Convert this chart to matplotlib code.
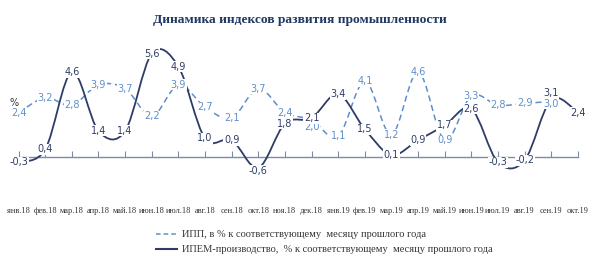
import matplotlib.pyplot as plt
import numpy as np
from matplotlib.path import Path
from matplotlib.patches import PathPatch
from matplotlib.lines import Line2D
from matplotlib.transforms import blended_transform_factory

months = ["янв.18", "фев.18", "мар.18", "апр.18", "май.18", "июн.18", "июл.18",
          "авг.18", "сен.18", "окт.18", "ноя.18", "дек.18", "янв.19", "фев.19",
          "мар.19", "апр.19", "май.19", "июн.19", "июл.19", "авг.19", "сен.19", "окт.19"]
ipp = [2.4, 3.2, 2.8, 3.9, 3.7, 2.2, 3.9, 2.7, 2.1, 3.7, 2.4, 2.0, 1.1, 4.1,
       1.2, 4.6, 0.9, 3.3, 2.8, 2.9, 3.0]
ipem = [-0.3, 0.4, 4.6, 1.4, 1.4, 5.6, 4.9, 1.0, 0.9, -0.6, 1.8, 2.1, 3.4, 1.5,
        0.1, 0.9, 1.7, 2.6, -0.3, -0.2, 3.1, 2.4]

title = "Динамика индексов развития промышленности"
ipp_name = "ИПП, в % к соответствующему  месяцу прошлого года"
ipem_name = "ИПЕМ-производство,  % к соответствующему  месяцу прошлого года"

# label nudges (points) where labels were moved apart in the original
ipp_nudge = {11: -5, 20: -1.5}
ipem_nudge = {9: -2, 20: 4.5}

c_ipp = "#5f8fc9"
c_ipem = "#2f3d66"
c_axis = "#7d8ca3"


def smooth_path(xs, ys):
    # excel-like smoothing: bezier segments through the points
    pts = np.column_stack([xs, ys]).astype(float)
    n = len(pts)
    verts = [pts[0]]
    codes = [Path.MOVETO]
    for i in range(n - 1):
        p0 = pts[i - 1] if i > 0 else pts[i]
        p1 = pts[i]
        p2 = pts[i + 1]
        p3 = pts[i + 2] if i + 2 < n else pts[i + 1]
        c1 = p1 + (p2 - p0) / 6.0
        c2 = p2 - (p3 - p1) / 6.0
        verts += [c1, c2, p2]
        codes += [Path.CURVE4] * 3
    return Path(verts, codes)


fig = plt.figure(figsize=(6, 2.57), dpi=100)
ax = fig.add_axes([0.031, 0.211, 0.932, 0.609])
ax.set_xlim(0, len(months) - 1)
ax.set_ylim(-2.5, 6)

x = np.arange(len(months))

ax.add_patch(PathPatch(smooth_path(x[:len(ipp)], ipp), fill=False, edgecolor=c_ipp,
                       lw=1.1, linestyle=(0, (4, 2.5)), zorder=2))
ax.add_patch(PathPatch(smooth_path(x, ipem), fill=False, edgecolor=c_ipem,
                       lw=1.3, zorder=3))

lbl = dict(ha="center", va="center", fontsize=7, family="DejaVu Sans", zorder=5,
           textcoords="offset points",
           bbox=dict(boxstyle="square,pad=0.05", fc="white", ec="none"))
for i, v in enumerate(ipp):
    ax.annotate(f"{v:.1f}".replace(".", ","), (i, v), xytext=(0, ipp_nudge.get(i, 0)),
                color=c_ipp, **lbl)
for i, v in enumerate(ipem):
    ax.annotate(f"{v:.1f}".replace(".", ","), (i, v), xytext=(0, ipem_nudge.get(i, 0)),
                color=c_ipem, **lbl)

for s in ["left", "right", "top"]:
    ax.spines[s].set_visible(False)
ax.spines["bottom"].set_position(("data", 0))
ax.spines["bottom"].set_color(c_axis)
ax.spines["bottom"].set_linewidth(1.0)
ax.set_yticks([])
ax.set_xticks(x)
ax.set_xticklabels([])
ax.tick_params(axis="x", direction="in", length=4, color=c_axis, width=0.8)

tr = blended_transform_factory(ax.transData, ax.transAxes)
for i, m in enumerate(months):
    ax.text(i, -0.05, m, transform=tr, ha="center", va="center", fontsize=6,
            family="Liberation Serif", color="#333333")

fig.text(0.023, 0.6, "%", fontsize=7, color="#333333", ha="center", va="center")
fig.text(0.5, 0.922, title, ha="center", va="center", fontsize=9.7,
         fontweight="bold", family="Liberation Serif", color="#1f3864")

handles = [Line2D([], [], color=c_ipp, lw=1.1, linestyle=(0, (3, 2))),
           Line2D([], [], color=c_ipem, lw=1.5)]
fig.legend(handles, [ipp_name, ipem_name], loc="upper left",
           bbox_to_anchor=(0.252, 0.125), frameon=False, handlelength=2.0,
           handletextpad=0.5, labelspacing=0.55, borderpad=0,
           prop={"family": "Liberation Serif", "size": 7.5}, labelcolor="#333333")

fig.savefig("out.png", dpi=100)
